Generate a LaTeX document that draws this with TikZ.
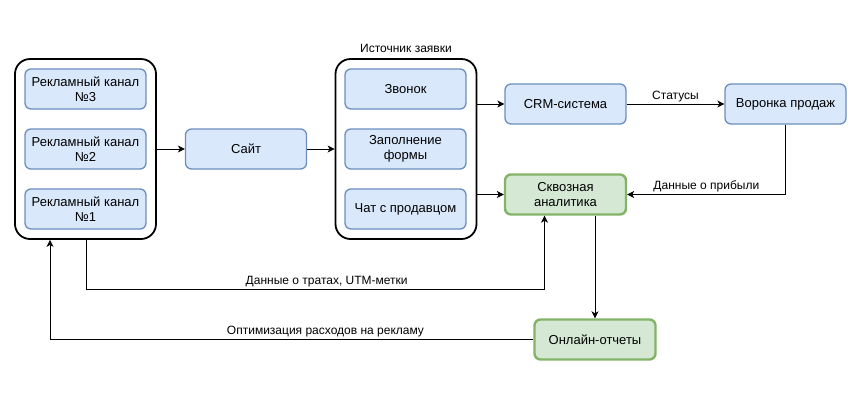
\documentclass[tikz,border=0pt]{standalone}
\usepackage{fontspec}
\setmainfont{Liberation Sans}
\usetikzlibrary{arrows.meta}
\definecolor{bfill}{HTML}{DAE8FC}
\definecolor{bline}{HTML}{6C8EBF}
\definecolor{gfill}{HTML}{D5E8D4}
\definecolor{gline}{HTML}{82B366}
\tikzset{
  bluebox/.style={draw=bline, fill=bfill, line width=1.3pt, rounded corners=6pt,
    minimum width=121pt, minimum height=40pt, inner sep=0pt, align=center,
    font=\fontsize{13}{15}\selectfont},
  greenbox/.style={draw=gline, fill=gfill, line width=2.4pt, rounded corners=6pt,
    minimum width=121pt, minimum height=40pt, inner sep=0pt, align=center,
    font=\fontsize{13}{15}\selectfont},
  contbox/.style={draw=black, fill=white, line width=1.8pt, rounded corners=15pt,
    minimum width=141pt, minimum height=180pt, inner sep=0pt},
  conn/.style={draw=black, line width=0.8pt, -{Stealth[length=7pt,width=7pt,inset=2pt]}},
  elabel/.style={font=\fontsize{12}{13.5}\selectfont, inner sep=1pt}
}
\begin{document}
\begin{tikzpicture}[x=1pt,y=-1pt]
\useasboundingbox (0,0) rectangle (860,400);
% containers
\node[contbox] (left) at (85.5,149) {};
\node[contbox] (src) at (406,149) {};
\node[elabel] (srclbl) at (406,48) {Источник заявки};
% left inner boxes
\node[bluebox] (ch3) at (85.5,89) {Рекламный канал\\№3};
\node[bluebox] (ch2) at (85.5,149) {Рекламный канал\\№2};
\node[bluebox] (ch1) at (85.5,209) {Рекламный канал\\№1};
% site
\node[bluebox] (site) at (246,149) {Сайт};
% source inner boxes
\node[bluebox] (call) at (405.5,89) {Звонок};
\node[bluebox] (form) at (405.5,149) {Заполнение\\формы};
\node[bluebox] (chat) at (405.5,209) {Чат с продавцом};
% right
\node[bluebox] (crm) at (565.5,104) {CRM-система};
\node[bluebox] (funnel) at (785.5,104) {Воронка продаж};
\node[greenbox] (ana) at (565.5,194.5) {Сквозная\\аналитика};
\node[greenbox] (rep) at (595,339.5) {Онлайн-отчеты};
% coordinates
\coordinate (c1) at (86,289);
\coordinate (c2) at (544.5,289);
\coordinate (c3) at (785.5,194.5);
\coordinate (c4) at (50,339.5);
% connectors
\draw[conn] (left.east) -- (site.west);
\draw[conn] (site.east) -- (src.west);
\draw[conn] (src.east |- crm.west) -- (crm.west);
\draw[conn] (src.east |- ana.west) -- (ana.west);
\draw[conn] (crm.east) -- node[elabel, above=1pt] (lst) {Статусы} (funnel.west);
\draw[conn] (funnel.south) -- (c3) -- node[elabel, above=1pt] (lprofit) {Данные о прибыли} (ana.east);
\draw[conn] (left.south -| c1) -- (c1) -- node[elabel, above=1pt, pos=0.525] (lcost) {Данные о тратах, UTM-метки} (c2) -- (ana.south -| c2);
\draw[conn] (ana.south -| rep.north) -- (rep.north);
\draw[conn] (rep.west) -- node[elabel, above=1pt, pos=0.43] (lopt) {Оптимизация расходов на рекламу} (c4) -- (left.south -| c4);
\end{tikzpicture}
\end{document}
